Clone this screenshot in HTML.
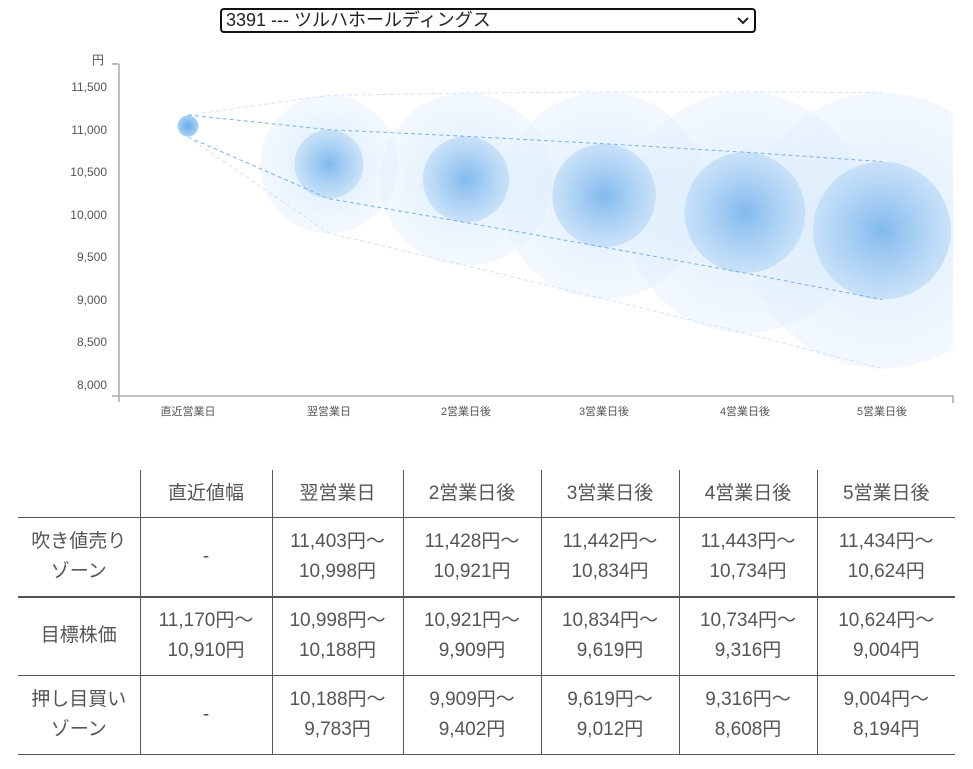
<!DOCTYPE html>
<html><head><meta charset="utf-8"><style>
body{margin:0;background:#fff;width:973px;height:769px;overflow:hidden;font-family:"Liberation Sans","Noto Sans CJK JP",sans-serif;position:relative}
.sel{position:absolute;left:220px;top:8px;width:528px;height:21px;border:2px solid #111;border-radius:4px;font-size:18px;line-height:21px;color:#222;padding-left:4px;box-sizing:content-box}
.sel span{position:absolute;right:4px;top:0}
table{position:absolute;left:18px;top:470px;border-collapse:collapse;color:#555;font-size:19px;text-align:center}
td{border:1px solid #555;padding:0;line-height:30px}
tr td:first-child{border-left:none}
tr td:last-child{border-right:none}
tr:first-child td{border-top:none;height:47px}
.r{height:79px}
.thick td{border-top:2px solid #555}
</style></head><body>
<div class="sel">3391 --- ツルハホールディングス<span>
<svg width="14" height="10"><path d="M2 2l5 5 5-5" fill="none" stroke="#222" stroke-width="2"/></svg></span></div>
<svg style="position:absolute;left:0;top:0" width="973" height="440">
<defs>
<radialGradient id="o"><stop offset="0" stop-color="#cfe5fb" stop-opacity="0.75"/><stop offset="1" stop-color="#e3f0fd" stop-opacity="0.45"/></radialGradient>
<radialGradient id="i"><stop offset="0" stop-color="#78b4ec" stop-opacity="0.9"/><stop offset="1" stop-color="#bcdaf7" stop-opacity="0.7"/></radialGradient>
<radialGradient id="s"><stop offset="0" stop-color="#6aaae8"/><stop offset="1" stop-color="#a9d0f5"/></radialGradient>
<clipPath id="c"><rect x="120" y="40" width="833" height="356"/></clipPath>
</defs>
<g font-size="12" fill="#555" text-anchor="end">
<text x="104" y="64">円</text>
<text x="107" y="91">11,500</text><text x="107" y="134">11,000</text><text x="107" y="176">10,500</text><text x="107" y="219">10,000</text><text x="107" y="261">9,500</text><text x="107" y="304">9,000</text><text x="107" y="346">8,500</text><text x="107" y="389">8,000</text>
</g>
<g clip-path="url(#c)">
<circle cx="329" cy="164.2" r="69" fill="url(#o)"/>
<circle cx="466" cy="179.4" r="86.3" fill="url(#o)"/>
<circle cx="604" cy="195.5" r="103.5" fill="url(#o)"/>
<circle cx="745" cy="212.6" r="120.7" fill="url(#o)"/>
<circle cx="882" cy="230.6" r="138" fill="url(#o)"/>
<circle cx="329" cy="164.2" r="34.5" fill="url(#i)"/>
<circle cx="466" cy="179.4" r="43.1" fill="url(#i)"/>
<circle cx="604" cy="195.5" r="51.8" fill="url(#i)"/>
<circle cx="745" cy="212.6" r="60.4" fill="url(#i)"/>
<circle cx="882" cy="230.6" r="69" fill="url(#i)"/>
<circle cx="188" cy="126" r="10.5" fill="url(#s)"/>
<g fill="none" stroke-dasharray="4,3" stroke-width="1">
<polyline stroke="#cfe3f8" points="188,115 329,95.3 466,93.1 604,91.9 745,91.9 882,92.6"/>
<polyline stroke="#7fb3e6" points="188,115 329,129.7 466,136.3 604,143.7 745,152.2 882,161.6"/>
<polyline stroke="#7fb3e6" points="188,137 329,198.7 466,222.5 604,247.2 745,273 882,299.5"/>
<polyline stroke="#cfe3f8" points="188,137 329,233.2 466,265.6 604,298.8 745,333.2 882,368.5"/>
</g>
</g>
<g stroke="#aaa" stroke-width="1.5" fill="none">
<path d="M119 64V402M112 64H119M112 396H953V403"/>
</g>
<g font-size="11" fill="#555" text-anchor="middle">
<text x="188" y="415">直近営業日</text><text x="329" y="415">翌営業日</text><text x="466" y="415">2営業日後</text><text x="604" y="415">3営業日後</text><text x="745" y="415">4営業日後</text><text x="882" y="415">5営業日後</text>
</g>
</svg>
<table>
<colgroup><col style="width:122px"><col style="width:132px"><col style="width:131px"><col style="width:138px"><col style="width:138px"><col style="width:138px"><col style="width:138px"></colgroup>
<tr><td></td><td>直近値幅</td><td>翌営業日</td><td>2営業日後</td><td>3営業日後</td><td>4営業日後</td><td>5営業日後</td></tr>
<tr class="r"><td>吹き値売り<br>ゾーン</td><td>-</td><td>11,403円～<br>10,998円</td><td>11,428円～<br>10,921円</td><td>11,442円～<br>10,834円</td><td>11,443円～<br>10,734円</td><td>11,434円～<br>10,624円</td></tr>
<tr class="r thick"><td>目標株価</td><td>11,170円～<br>10,910円</td><td>10,998円～<br>10,188円</td><td>10,921円～<br>9,909円</td><td>10,834円～<br>9,619円</td><td>10,734円～<br>9,316円</td><td>10,624円～<br>9,004円</td></tr>
<tr class="r"><td>押し目買い<br>ゾーン</td><td>-</td><td>10,188円～<br>9,783円</td><td>9,909円～<br>9,402円</td><td>9,619円～<br>9,012円</td><td>9,316円～<br>8,608円</td><td>9,004円～<br>8,194円</td></tr>
</table>
</body></html>
